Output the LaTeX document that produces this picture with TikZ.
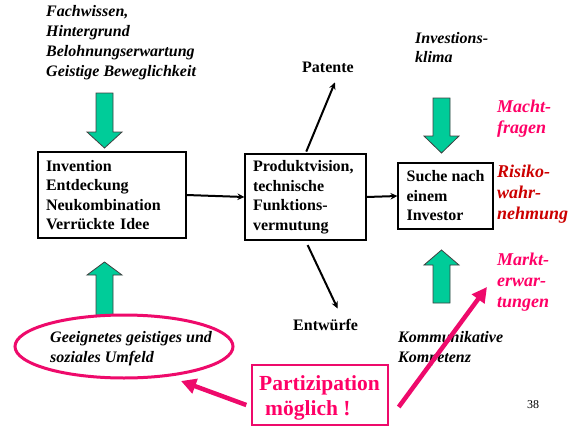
\documentclass[tikz,border=0pt]{standalone}
\usepackage{fontspec}
\setmainfont{Liberation Serif}
\usetikzlibrary{arrows.meta,shapes.geometric}
\definecolor{mint}{HTML}{00CC99}
\definecolor{hotpink}{HTML}{FF0066}
\definecolor{crimson}{HTML}{CC0000}
\definecolor{rosered}{HTML}{EE0A6B}

% block arrow: x of centre line, shaft end, head base, tip
\newcommand\blockarrow[4]{%
  \draw[greenarrow] (#1-8.5,#2) -- (#1+8.5,#2) -- (#1+8.5,#3) -- (#1+17.5,#3)
    -- (#1,#4) -- (#1-17.5,#3) -- (#1-8.5,#3) -- cycle;}

\begin{document}
\begin{tikzpicture}[x=1pt,y=-1pt,
  greenarrow/.style={fill=mint,draw=black!75,line width=0.8pt,line join=miter},
  % multi-line labels are placed by the baseline of their last line
  note/.style={font=\fontsize{16}{19.7}\selectfont\bfseries\itshape,
    align=left,inner sep=0pt,anchor=base west},
  side/.style={font=\fontsize{18}{21}\selectfont\bfseries\itshape,
    align=left,inner sep=0pt,anchor=base west},
  plain/.style={font=\fontsize{16}{19.5}\selectfont\bfseries,
    inner sep=0pt,anchor=base west},
  stepbox/.style={draw,line width=1.1pt,font=\fontsize{16}{19.5}\selectfont\bfseries,
    align=left,inner xsep=8pt,anchor=center},
  flow/.style={line width=2pt,-{Stealth[length=7pt,width=6.5pt]}},
  pinkarrow/.style={draw=rosered,line width=4.5pt,
    -{Triangle[length=15pt,width=15pt]}}]

\useasboundingbox (0,0) rectangle (583,428);

% influences
\node[note] (skills) at (46,76) {Fachwissen,\\Hintergrund\\Belohnungserwartung\\Geistige Beweglichkeit};
\node[note] (climate) at (415,63) {Investions-\\klima};
\node[note] (comm) at (398,362) {Kommunikative\\Kompetenz};

% right-hand labels
\node[side,text=hotpink] (power) at (497,133) {Macht-\\fragen};
\node[side,text=crimson] (risk) at (497,219) {Risiko-\\wahr-\\nehmung};
\node[side,text=hotpink] (market) at (497,307) {Markt-\\erwar-\\tungen};

% main chain
\node[stepbox,minimum width=148pt,minimum height=86pt,text width=132pt]
  (inv) at (112,195) {Invention\\Entdeckung\\Neukombination\\Verrückte Idee};
\node[stepbox,minimum width=121pt,minimum height=86pt,text width=105pt]
  (prod) at (305.5,197) {Produktvision,\\technische\\Funktions-\\vermutung};
\node[stepbox,minimum width=95pt,minimum height=66pt]
  (search) at (445.5,196) {Suche nach\\einem\\Investor};

\node[plain] (pat) at (302,73) {Patente};
\node[plain] (ent) at (293,330) {Entwürfe};

\draw[flow] (inv.east) -- (prod.west);
\draw[flow] (prod.east) -- (search.west);
\draw[flow,shorten <=2pt] (prod.north) -- ([shift={(7,9)}]pat.south);
\draw[flow,shorten <=5pt] (prod.south) -- ([shift={(12,-10)}]ent.north);

% green block arrows
\blockarrow{104.5}{93}{132}{148}
\blockarrow{441.5}{98}{136}{153}
\blockarrow{104.5}{318}{275}{262}
\blockarrow{441.5}{303}{265}{250}

% environment
\node[ellipse,draw=rosered,line width=3pt,fill=white,
  minimum width=218pt,minimum height=63pt,inner sep=0pt] (env) at (124,346.5) {};
\node[note] (envtxt) at (50,362) {Geeignetes geistiges und\\soziales Umfeld};

% participation
\node[draw=rosered,line width=1.4pt,minimum width=136pt,minimum height=60pt,
  inner sep=0pt] (part) at (320,395) {};
\node[font=\fontsize{21.5}{25}\selectfont\bfseries,text=hotpink,inner sep=0pt,
  anchor=base west] (parttxt) at (259,390) {Partizipation};
\node[font=\fontsize{21.5}{25}\selectfont\bfseries,text=hotpink,inner sep=0pt,
  anchor=base west] (parttxt2) at (265,415) {möglich !};

\coordinate (envtip) at (181,381);
\coordinate (markettip) at (487,287);
\draw[pinkarrow] ([shift={(-5,10)}]part.west) -- (envtip);
\draw[pinkarrow] ([shift={(10,12)}]part.east) -- (markettip);

% page number
\node[font=\fontsize{12}{14}\selectfont,inner sep=0pt,anchor=base west] (pg) at (527,408) {38};
\end{tikzpicture}
\end{document}
